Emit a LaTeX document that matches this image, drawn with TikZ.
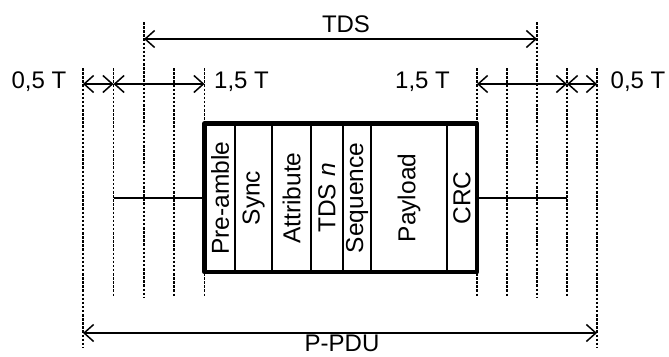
\documentclass[tikz,border=0pt]{standalone}
\usepackage{fontspec}
\setmainfont{Liberation Sans}
\usetikzlibrary{arrows.meta}
\begin{document}
\begin{tikzpicture}[x=1pt,y=-1pt,
  lbl/.style={font=\fontsize{24}{28}\selectfont, inner sep=0pt},
  cell/.style={font=\fontsize{24.5}{28}\selectfont, inner sep=0pt, rotate=90},
  dotline/.style={line width=1.1pt, dash pattern=on 2.5pt off 1.6pt},
  dim/.style={line width=1.5pt, {Straight Barb[length=9.5pt,width=17pt,line width=1.5pt]}-{Straight Barb[length=9.5pt,width=17pt,line width=1.5pt]}},
  divider/.style={line width=1.3pt},
  wire/.style={line width=2.2pt}]
\useasboundingbox (0,0) rectangle (669,356);
% dotted guide lines
\foreach \x/\t/\b in {83/68/348, 113.5/68/297, 144/22/297, 174/68/297, 204.5/68/297,
                      477/68/297, 507/68/297, 537/22/297, 567/68/297, 597/68/348}
  \draw[dotline] (\x,\t) -- (\x,\b);
% coordinates for dimension lines
\coordinate (tdsL) at (144,39);
\coordinate (tdsR) at (537,39);
\coordinate (a0) at (83,84);
\coordinate (a1) at (113.5,84);
\coordinate (a2) at (204.5,84);
\coordinate (b0) at (477,84);
\coordinate (b1) at (567,84);
\coordinate (b2) at (597,84);
\coordinate (pL) at (83,333);
\coordinate (pR) at (597,333);
\draw[dim] (tdsL) -- (tdsR);
\draw[dim] (a0) -- (a1);
\draw[dim] (a1) -- (a2);
\draw[dim] (b0) -- (b1);
\draw[dim] (b1) -- (b2);
\draw[dim] (pL) -- (pR);
% labels
\node[lbl, anchor=base] (tds) at (346,32) {TDS};
\node[lbl, anchor=base] (l05) at (39,88) {0,5 T};
\node[lbl, anchor=base] (l15) at (241.5,88) {1,5 T};
\node[lbl, anchor=base] (r15) at (422.5,88) {1,5 T};
\node[lbl, anchor=base] (r05) at (638,88) {0,5 T};
\node[lbl, anchor=base] (ppdu) at (342,351) {P-PDU};
% box
\coordinate (boxW) at (204.5,198);
\coordinate (boxE) at (477,198);
\foreach \x in {235,272,311,343,371,447}
  \draw[divider] (\x,123.5) -- (\x,272);
\draw[line width=4.8pt, line join=round] (204.5,123.5) rectangle (477,272);
\node[cell] (pre) at (220,198) {Pre-amble};
\node[cell] (sync) at (253.5,198) {Sync};
\node[cell] (attr) at (291.5,198) {Attribute};
\node[cell] (tdsn) at (327,198) {TDS \textit{n}};
\node[cell] (seq) at (357,198) {Sequence};
\node[cell] (pay) at (409,198) {Payload};
\node[cell] (crc) at (462,198) {CRC};
% wires
\coordinate (wl) at (113.5,198);
\coordinate (wr) at (567,198);
\draw[wire] (wl) -- (boxW);
\draw[wire] (boxE) -- (wr);
\end{tikzpicture}
\end{document}
